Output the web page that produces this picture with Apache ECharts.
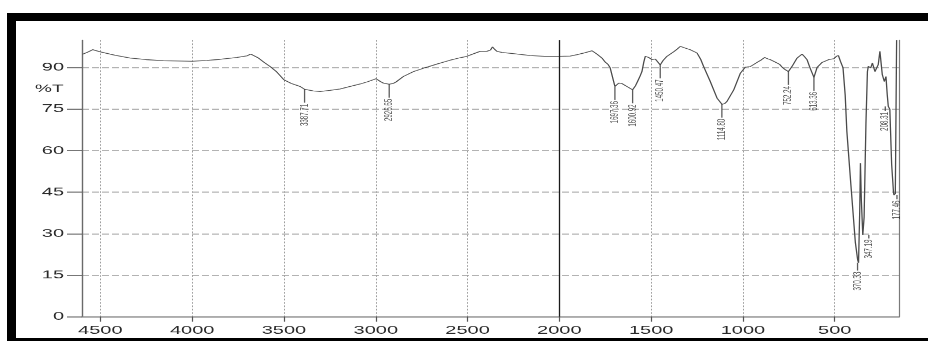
<!DOCTYPE html>
<html>
<head>
<meta charset="utf-8">
<script src="https://cdn.jsdelivr.net/npm/echarts@6/dist/echarts.min.js"></script>
<style>
html, body { margin: 0; padding: 0; background: #fff; width: 928px; height: 341px; overflow: hidden; }
#frame { position: absolute; left: 7px; top: 13px; width: 1000px; height: 328px; box-sizing: border-box;
         border-top: 8px solid #000; border-left: 9px solid #000; border-bottom: 3px solid #000; }
/* the plot is laid out tall and then flattened, as in the printed report */
#chart { position: absolute; left: 0; top: 0; width: 928px; height: 640px; transform: scaleY(0.56); transform-origin: 0 0; }
</style>
</head>
<body>
<div id="frame"></div>
<div id="chart"></div>
<script>
// FTIR spectrum: wavenumber (cm-1) against transmittance (%T)
const wavenumbers = [
  4598, 4570, 4542, 4500, 4420, 4338, 4250, 4157, 4000, 3920, 3848, 3757, 3700, 3681, 3660, 3639,
  3610, 3575, 3540, 3500, 3460, 3412, 3387.71, 3340, 3303, 3250, 3194, 3140, 3085, 3040, 2998, 2975,
  2958, 2926.65, 2905, 2890, 2850, 2794, 2730, 2667, 2600, 2540, 2504, 2460, 2431, 2395, 2375, 2364,
  2352, 2340, 2313, 2240, 2159, 2080, 2000, 1941, 1904, 1860, 1822, 1795, 1768, 1750, 1735, 1723,
  1710, 1697.36, 1677, 1660, 1650, 1632, 1600.92, 1585, 1574, 1560, 1550, 1540, 1532, 1514, 1495, 1477,
  1450.47, 1435, 1414, 1378, 1360, 1341, 1315, 1287, 1250, 1230, 1214, 1178, 1141, 1114.80, 1100, 1087,
  1050, 1014, 987, 960, 940, 923, 900, 882, 865, 851, 823, 800, 787, 770, 752.24, 733,
  705, 678, 665, 651, 635, 613.36, 596, 569, 533, 505, 491, 480, 469, 455, 443, 434,
  412, 388, 375, 370.33, 364, 360, 355, 347.19, 340, 330, 322, 317, 304, 295, 281, 263,
  254, 241, 230, 221, 214, 208.31, 200, 190, 180, 177.46, 170, 163
];
const transmittance = [
  94.8, 95.6, 96.5, 95.7, 94.5, 93.5, 92.9, 92.5, 92.3, 92.6, 93.0, 93.7, 94.3, 94.9, 94.2, 93.5,
  92.0, 90.4, 88.5, 85.6, 84.3, 83.2, 82.2, 81.6, 81.4, 81.8, 82.3, 83.2, 84.1, 85.0, 86.0, 85.0,
  84.4, 84.0, 84.3, 84.8, 86.8, 88.6, 90.0, 91.3, 92.6, 93.6, 94.1, 95.2, 95.9, 95.9, 96.4, 97.5,
  96.6, 95.9, 95.5, 95.0, 94.4, 94.1, 94.1, 94.2, 94.7, 95.4, 96.1, 94.9, 93.5, 92.0, 91.2, 89.9,
  86.5, 83.2, 84.4, 84.3, 84.1, 83.2, 82.0, 83.5, 85.0, 87.0, 88.6, 92.0, 94.1, 93.7, 92.9, 93.1,
  91.0, 92.6, 94.1, 95.7, 96.6, 97.7, 97.1, 96.5, 95.3, 93.0, 90.4, 85.0, 79.0, 76.8, 77.0, 77.8,
  82.0, 88.0, 90.2, 90.4, 91.2, 91.9, 92.8, 93.7, 93.2, 92.9, 92.0, 91.2, 90.2, 89.3, 88.6, 90.4,
  93.5, 94.9, 94.0, 92.9, 90.0, 86.5, 90.1, 91.9, 92.9, 93.2, 94.1, 94.4, 92.3, 90.0, 80.0, 67.0,
  47.6, 27.0, 20.5, 19.5, 38.0, 55.5, 42.0, 29.5, 36.0, 70.0, 88.6, 90.5, 89.9, 91.7, 88.6, 91.1,
  95.9, 87.5, 85.0, 86.8, 80.2, 76.0, 75.0, 55.0, 45.0, 44.0, 44.5, 100.0
];
// peak picks printed beside the trace
const peakLabels = ['3387.71', '2926.65', '1697.36', '1600.92', '1450.47', '1114.80',
                    '752.24', '613.36', '370.33', '347.19', '208.31', '177.46'];
const xTickValues = [4500, 4000, 3500, 3000, 2500, 2000, 1500, 1000, 500];
const yTickValues = [0, 15, 30, 45, 60, 75, 90];
const splitMarker = [2000];

// leader shape for each peak label: sideways shift and drop length
const leaderStyle = {
  '370.33': { dx: -1, len: 14 },
  '347.19': { dx: 6, len: 6 },
  '208.31': { dx: -3, len: 8 },
  '177.46': { dx: 3, len: 8 }
};

const FONT = '"Liberation Sans", Arial, sans-serif';
const spectrum = wavenumbers.map((w, i) => [w, transmittance[i]]);
const peakData = peakLabels.map(lbl => {
  const w = parseFloat(lbl);
  const t = transmittance[wavenumbers.indexOf(w)];
  const st = leaderStyle[lbl] || { dx: 0, len: 24 };
  return {
    name: lbl,
    value: [w, t],
    symbolSize: [1.3, st.len],
    symbolOffset: [st.dx, st.len / 2]
  };
});

const chart = echarts.init(document.getElementById('chart'), null, { renderer: 'canvas' });
chart.setOption({
  animation: false,
  backgroundColor: 'transparent',
  grid: { left: 82, right: 29, top: 71.4, bottom: 74.5, containLabel: false, outerBoundsMode: 'none' },
  xAxis: [{
    type: 'value', min: 150, max: 4600, inverse: true, position: 'bottom',
    axisLine: { show: true, lineStyle: { color: '#8c8c8c', width: 1.6, type: [3, 2] } },
    axisTick: { show: true, length: 9, customValues: xTickValues, lineStyle: { color: '#555', width: 1.2 } },
    axisLabel: { customValues: xTickValues, fontSize: 20, fontFamily: FONT, color: '#2a2a2a', margin: 15,
                 formatter: v => String(v) },
    splitLine: { show: true, lineStyle: { color: '#9c9c9c', width: 1, type: [3, 3] } }
  }, {
    type: 'value', min: 150, max: 4600, inverse: true, position: 'top',
    axisLine: { show: true, lineStyle: { color: '#7a7a7a', width: 1.8 } },
    axisTick: { show: false }, axisLabel: { show: false }, splitLine: { show: false }
  }],
  yAxis: [{
    type: 'value', min: 0, max: 100,
    axisLine: { show: true, lineStyle: { color: '#6a6a6a', width: 1.4 } },
    axisTick: { show: true, length: 15, customValues: yTickValues, lineStyle: { color: '#555', width: 1.6 } },
    axisLabel: { customValues: yTickValues, fontSize: 20, fontFamily: FONT, color: '#2a2a2a', margin: 18,
                 formatter: v => String(v) },
    splitLine: { show: true, lineStyle: { color: '#9a9a9a', width: 1.6, type: [7, 3] } }
  }, {
    type: 'value', min: 0, max: 100, position: 'right',
    axisLine: { show: true, lineStyle: { color: '#7a7a7a', width: 1.2 } },
    axisTick: { show: false }, axisLabel: { show: false }, splitLine: { show: false }
  }],
  graphic: [{
    type: 'text', x: 63.5, y: 159,
    style: { text: '%T', fontSize: 19, fontFamily: FONT, fill: '#2a2a2a', align: 'right', verticalAlign: 'middle' }
  }],
  series: [{
    type: 'line',
    data: spectrum,
    symbol: 'none',
    lineStyle: { color: '#4a4a4a', width: 1.3 },
    markLine: {
      silent: true, symbol: 'none', label: { show: false },
      lineStyle: { color: '#1a1a1a', width: 1.3, type: 'solid' },
      data: splitMarker.map(v => ({ xAxis: v }))
    },
    z: 3
  }, {
    type: 'scatter',
    data: peakData,
    symbol: 'rect',
    itemStyle: { color: '#333' },
    silent: true,
    label: {
      show: true, position: 'bottom', distance: 2, rotate: 90, align: 'right', verticalAlign: 'middle',
      fontSize: 11, fontFamily: FONT, color: '#2b2b2b',
      formatter: p => p.data.name
    },
    z: 4
  }]
});
</script>
</body>
</html>
